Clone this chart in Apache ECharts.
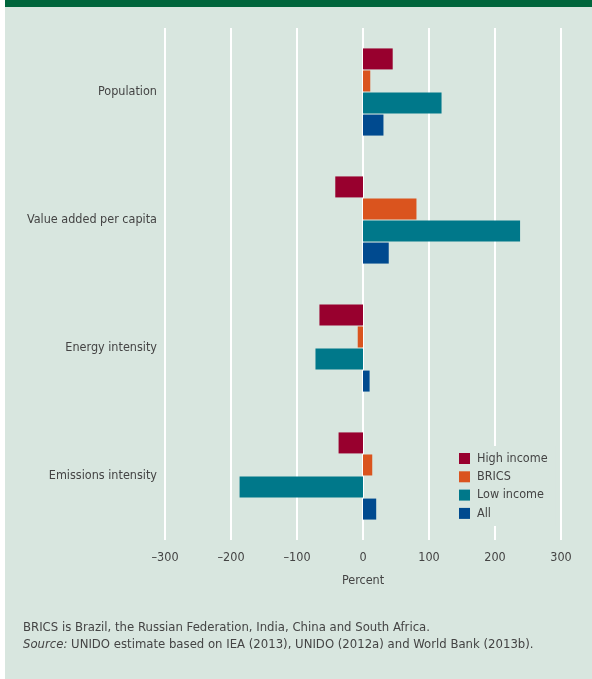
<!DOCTYPE html>
<html>
<head>
<meta charset="utf-8">
<script src="https://cdn.jsdelivr.net/npm/echarts@6/dist/echarts.min.js"></script>
<style>
html,body{margin:0;padding:0;background:#ffffff;}
#chart{width:592px;height:679px;}
</style>
</head>
<body>
<div id="chart"></div>
<script>
var categories = ['Population', 'Value added per capita', 'Energy intensity', 'Emissions intensity'];
var seriesNames = ['High income', 'BRICS', 'Low income', 'All'];
var highIncome = [45, -42, -66, -37];
var brics = [11, 81, -8, 14];
var lowIncome = [119, 238, -72, -187];
var allCountries = [31, 39, 10, 20];
var xTicks = [-300, -200, -100, 0, 100, 200, 300];
var noteLine1 = 'BRICS is Brazil, the Russian Federation, India, China and South Africa.';
var noteSource = 'Source:';
var noteLine2 = ' UNIDO estimate based on IEA (2013), UNIDO (2012a) and World Bank (2013b).';

var FONT = '"Liberation Sans Narrow", "DejaVu Sans Condensed", "Liberation Sans", sans-serif';
var FS = 12.5;
var TXT = '#444444';
var BG = '#d8e6df';
var colors = ['#98002e', '#da541e', '#00788a', '#004a8f'];
var values = [highIncome, brics, lowIncome, allCountries];

var chart = echarts.init(document.getElementById('chart'), null, {renderer: 'canvas'});
var option = {
  animation: false,
  backgroundColor: 'transparent',
  textStyle: {fontFamily: FONT},
  graphic: [
    {type: 'rect', left: 5, top: 0, z: -10, shape: {width: 587, height: 679}, style: {fill: BG}},
    {type: 'rect', left: 5, top: 0, z: 10, shape: {width: 587, height: 7}, style: {fill: '#00663c'}},
    {type: 'text', left: 23, top: 621, z: 10, style: {
      text: '{n|' + noteLine1 + '}\n{i|' + noteSource + '}{n|' + noteLine2 + '}',
      rich: {
        n: {fontFamily: FONT, fontSize: 13, fill: TXT, lineHeight: 17},
        i: {fontFamily: FONT, fontSize: 13, fill: TXT, fontStyle: 'italic', lineHeight: 17}
      }
    }}
  ],
  grid: {left: 165, right: 31, top: 28, bottom: 139, containLabel: false},
  legend: {
    orient: 'vertical', left: 451, top: 446,
    data: seriesNames,
    itemWidth: 11, itemHeight: 11, itemGap: 5.3,
    icon: 'rect',
    backgroundColor: BG,
    padding: [6, 8, 6, 8],
    textStyle: {color: TXT, fontSize: FS, fontFamily: FONT, lineHeight: 11, padding: [0, 0, 0, 2]}
  },
  xAxis: {
    type: 'value', min: -300, max: 300, interval: 100,
    name: 'Percent', nameLocation: 'middle', nameGap: 34,
    nameTextStyle: {color: TXT, fontSize: FS, fontFamily: FONT},
    axisLine: {show: false}, axisTick: {show: false},
    axisLabel: {color: TXT, fontSize: FS, fontFamily: FONT, margin: 11,
      formatter: function (v) { return xTicks.indexOf(v) >= 0 ? (v < 0 ? '\u2013' + Math.abs(v) : String(v)) : ''; }},
    splitLine: {show: true, lineStyle: {color: '#ffffff', width: 2}}
  },
  yAxis: {
    type: 'category', data: categories, inverse: true,
    axisLine: {show: false}, axisTick: {show: false},
    axisLabel: {color: TXT, fontSize: FS, fontFamily: FONT, margin: 8},
    splitLine: {show: false}
  },
  series: seriesNames.map(function (n, i) {
    return {
      name: n, type: 'bar', data: values[i], barWidth: 21, barGap: '5%',
      itemStyle: {color: colors[i], borderWidth: 0}
    };
  })
};
chart.setOption(option);
</script>
</body>
</html>
